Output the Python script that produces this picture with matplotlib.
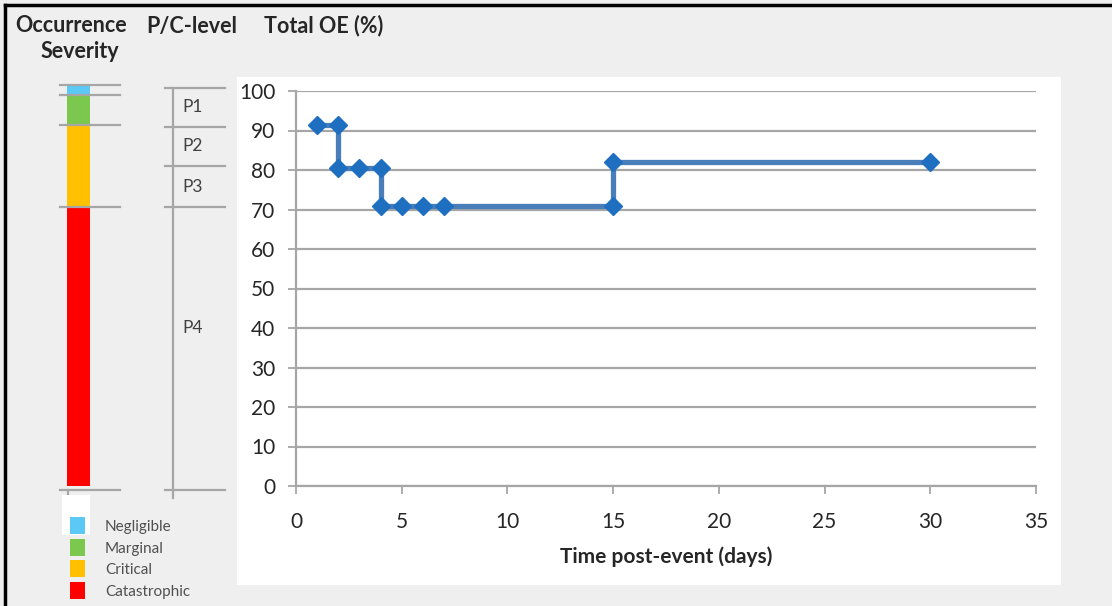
import matplotlib
matplotlib.use("Agg")
import matplotlib.pyplot as plt
from matplotlib.patches import Rectangle
from matplotlib.lines import Line2D

plt.rcParams['font.family'] = ['Lato', 'DejaVu Sans']

# data
days = [1, 2, 2, 3, 4, 4, 5, 6, 7, 15, 15, 30]
total_oe = [91.5, 91.5, 80.5, 80.5, 80.5, 71, 71, 71, 71, 71, 82, 82]

severity_labels = ['Negligible', 'Marginal', 'Critical', 'Catastrophic']
severity_colors = ['#5bc8f5', '#7cc84e', '#ffc000', '#ff0000']
severity_bounds = [101.5, 99, 91.4, 70.6, 0]   # top of each band, last = bottom

pc_labels = ['P1', 'P2', 'P3', 'P4']
pc_bounds = [100.8, 91, 81, 70.6, -1]
pc_label_y = [95.9, 86, 75.8, 40]

W, H = 1112, 606
BG = '#efefef'
GRID = '#a6a6a6'
TXT = '#262626'


def fx(px):
    return px / W


def fy(py):
    return 1 - py / H


fig = plt.figure(figsize=(W / 100, H / 100), dpi=100, facecolor=BG)

# white panel behind chart
fig.patches.append(Rectangle((fx(237), fy(585)), fx(1061) - fx(237), fy(77) - fy(585),
                             transform=fig.transFigure, facecolor='white', edgecolor='none', zorder=-5))

# black border left / top
fig.add_artist(Line2D([fx(5), fx(5)], [0, fy(5)], color='black', lw=2.5))
fig.add_artist(Line2D([fx(5), 1], [fy(5), fy(5)], color='black', lw=2.5))

# main chart
ax = fig.add_axes([fx(296), fy(486), fx(1036) - fx(296), fy(91) - fy(486)])
ax.set_facecolor('white')
ax.set_xlim(0, 35)
ax.set_ylim(0, 100)
ax.set_xticks(range(0, 36, 5))
ax.set_yticks(range(0, 101, 10))
ax.yaxis.grid(True, color=GRID, lw=1.6)
ax.set_axisbelow(True)
for s in ['top', 'right']:
    ax.spines[s].set_visible(False)
for s in ['left', 'bottom']:
    ax.spines[s].set_color(GRID)
    ax.spines[s].set_linewidth(1.6)
ax.tick_params(axis='both', colors=GRID, length=6, width=1.3, labelsize=15, labelcolor=TXT)
ax.tick_params(axis='y', pad=9)
ax.tick_params(axis='x', pad=13)
ax.plot(days, total_oe, color='#4a7ebb', lw=3.8, marker='D', markersize=9,
        markerfacecolor='#1f6fc0', markeredgecolor='#1f6fc0', clip_on=False, zorder=3)
ax.set_xlabel('Time post-event (days)', fontsize=15, fontweight='bold', color=TXT, labelpad=10)

# severity column (x in pixels relative to axes left)
sev = fig.add_axes([fx(55), fy(486), fx(125) - fx(55), fy(91) - fy(486)])
sev.set_xlim(0, 70)
sev.set_ylim(0, 100)
sev.axis('off')
for i, c in enumerate(severity_colors):
    top = severity_bounds[i]
    bot = severity_bounds[i + 1]
    sev.bar(23.5, top - bot, bottom=bot, width=23, color=c, clip_on=False, zorder=2)
for b in severity_bounds[:-1] + [-1]:
    sev.plot([5, 65], [b, b], color=GRID, lw=1.6, clip_on=False, zorder=3)
sev.plot([12.5, 12.5], [-1, -3.5], color=GRID, lw=1.6, clip_on=False, zorder=3)

# P/C level column
pc = fig.add_axes([fx(160), fy(486), fx(230) - fx(160), fy(91) - fy(486)])
pc.set_xlim(0, 70)
pc.set_ylim(0, 100)
pc.axis('off')
pc.plot([13, 13], [pc_bounds[0], -3], color=GRID, lw=1.6, clip_on=False)
for b in pc_bounds:
    pc.plot([5, 65], [b, b], color=GRID, lw=1.6, clip_on=False)
for lab, yy in zip(pc_labels, pc_label_y):
    pc.text(22, yy, lab, fontsize=12.5, color='#404040', va='center', ha='left')

# headers
hdr = dict(va='center', fontsize=15.5, fontweight='bold', color=TXT)
fig.text(fx(71), fy(26), 'Occurrence', ha='center', **hdr)
fig.text(fx(80), fy(51), 'Severity', ha='center', **hdr)
fig.text(fx(146), fy(26), 'P/C-level', ha='left', **hdr)
fig.text(fx(264), fy(26), 'Total OE (%)', ha='left', **hdr)

# legend
fig.patches.append(Rectangle((fx(62), fy(535)), fx(90) - fx(62), fy(495) - fy(535),
                             transform=fig.transFigure, facecolor='white', edgecolor='none', zorder=1))
sw_top = [517, 539, 560, 582]
for lab, c, t in zip(severity_labels, severity_colors, sw_top):
    fig.patches.append(Rectangle((fx(70), fy(t + 17)), fx(15), fy(0) - fy(17),
                                 transform=fig.transFigure, facecolor=c, edgecolor='none', zorder=2))
    fig.text(fx(105), fy(t + 10), lab, ha='left', va='center', fontsize=11, color='#505050')

fig.savefig('out.png', dpi=100, facecolor=BG)
